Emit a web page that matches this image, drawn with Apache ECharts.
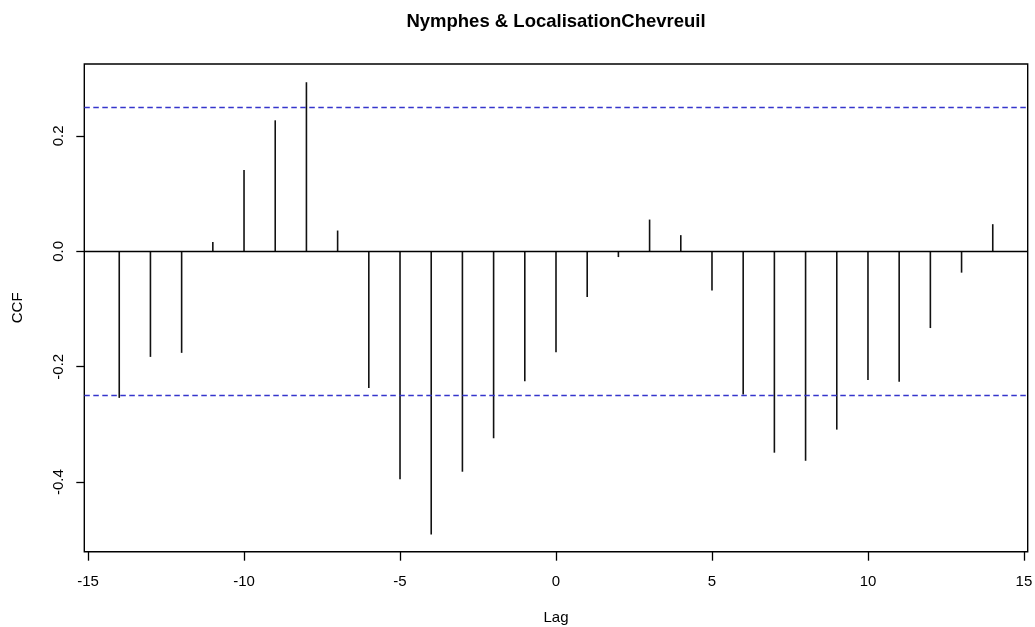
<!DOCTYPE html>
<html>
<head>
<meta charset="utf-8">
<title>CCF</title>
<script src="https://cdn.jsdelivr.net/npm/echarts@6.0.0/dist/echarts.min.js"></script>
<style>
  html, body { margin: 0; padding: 0; background: #fff; }
  #container { width: 1035px; height: 627px; }
</style>
</head>
<body>
<div id="container"></div>
<script>
/* donnees */
var lags = [-14, -13, -12, -11, -10, -9, -8, -7, -6, -5, -4, -3, -2, -1, 0,
            1, 2, 3, 4, 5, 6, 7, 8, 9, 10, 11, 12, 13, 14];
var ccf = [-0.254, -0.183, -0.176, 0.016, 0.141, 0.227, 0.293, 0.036, -0.237, -0.395, -0.491, -0.382, -0.324, -0.225, -0.175,
           -0.079, -0.010, 0.055, 0.028, -0.068, -0.248, -0.349, -0.363, -0.309, -0.223, -0.226, -0.133, -0.037, 0.047];
var ciLimit = 0.2525;
var xTicks = [-15, -10, -5, 0, 5, 10, 15];
var yTicks = [-0.4, -0.2, 0, 0.2];

var font = 'Liberation Sans, Arial, sans-serif';

var points = [];
for (var i = 0; i < lags.length; i++) {
    points.push([lags[i], ccf[i]]);
}

var dom = document.getElementById("container");
var myChart = echarts.init(dom, null, {renderer: 'canvas'});

var option = {
    animation: false,
    backgroundColor: '#fff',
    title: {
        text: 'Nymphes & LocalisationChevreuil',
        left: 556,
        top: 12,
        padding: 0,
        textAlign: 'center',
        textStyle: {
            fontFamily: font,
            fontSize: 18.5,
            fontWeight: 'bold',
            color: '#000'
        }
    },
    grid: {
        left: 84.3,
        right: 7.3,
        top: 64,
        bottom: 75.3,
        show: true,
        borderColor: '#000',
        borderWidth: 1.4,
        backgroundColor: 'transparent',
        outerBoundsMode: 'none'
    },
    xAxis: {
        type: 'value',
        min: -15.12,
        max: 15.12,
        name: 'Lag',
        nameLocation: 'middle',
        nameGap: 58.5,
        nameTextStyle: {fontFamily: font, fontSize: 15, color: '#000'},
        axisLine: {show: false, onZero: false},
        axisTick: {
            show: true,
            length: 9,
            customValues: xTicks,
            lineStyle: {color: '#000', width: 1.3}
        },
        axisLabel: {
            customValues: xTicks,
            margin: 23,
            fontFamily: font,
            fontSize: 15,
            color: '#000'
        },
        splitLine: {show: false}
    },
    yAxis: {
        type: 'value',
        min: -0.5206,
        max: 0.3246,
        name: 'CCF',
        nameLocation: 'middle',
        nameGap: 59,
        nameTextStyle: {fontFamily: font, fontSize: 15, color: '#000'},
        axisLine: {show: false, onZero: false},
        axisTick: {
            show: true,
            length: 8,
            customValues: yTicks,
            lineStyle: {color: '#000', width: 1.3}
        },
        axisLabel: {
            customValues: yTicks,
            rotate: 90,
            margin: 18,
            fontFamily: font,
            fontSize: 15,
            color: '#000',
            formatter: function (v) { return v.toFixed(1); }
        },
        splitLine: {show: false}
    },
    series: [{
        type: 'bar',
        data: points,
        barWidth: 1.6,
        itemStyle: {color: '#111'},
        silent: true,
        markLine: {
            silent: true,
            symbol: 'none',
            label: {show: false},
            data: [
                {yAxis: 0, lineStyle: {color: '#000', width: 1.4, type: 'solid'}},
                {yAxis: ciLimit, lineStyle: {color: '#3535cc', width: 1.3, type: [5.5, 3.5]}},
                {yAxis: -ciLimit, lineStyle: {color: '#3535cc', width: 1.3, type: [5.5, 3.5]}}
            ]
        }
    }]
};

if (option && typeof option === "object") {
    myChart.setOption(option, true);
}
</script>
</body>
</html>
